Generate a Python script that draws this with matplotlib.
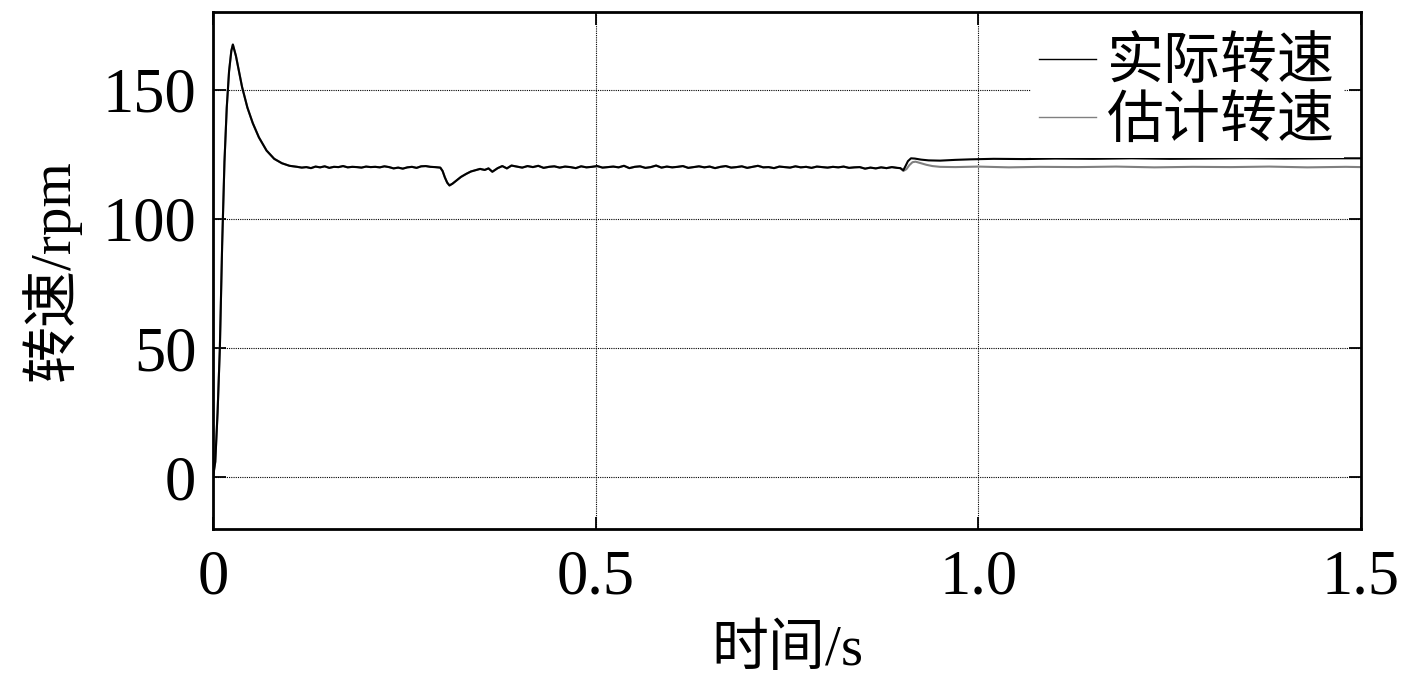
import matplotlib
matplotlib.use("Agg")
import matplotlib.pyplot as plt
import numpy as np

# shared part of both curves (start-up, load step at 0.3 s)
t_common = [
    0.000, 0.003, 0.006, 0.009, 0.012, 0.015, 0.018, 0.021, 0.024, 0.026,
    0.030, 0.034, 0.038, 0.045, 0.052, 0.060, 0.070, 0.080, 0.090, 0.100,
    0.110, 0.116, 0.122, 0.128, 0.134, 0.140, 0.146, 0.152, 0.158, 0.164,
    0.170, 0.176, 0.182, 0.188, 0.194, 0.200, 0.206, 0.212, 0.218, 0.224,
    0.230, 0.236, 0.242, 0.248, 0.254, 0.260, 0.266, 0.272, 0.278, 0.284,
    0.290, 0.297, 0.300, 0.303, 0.306, 0.309, 0.313, 0.318, 0.324, 0.331,
    0.337, 0.343, 0.349, 0.355, 0.360, 0.365, 0.372, 0.378, 0.384, 0.390,
    0.397, 0.404, 0.411, 0.418, 0.425, 0.432, 0.439, 0.446, 0.453, 0.460,
    0.467, 0.474, 0.481, 0.488, 0.495, 0.502, 0.509, 0.516, 0.523, 0.530,
    0.537, 0.544, 0.551, 0.558, 0.565, 0.572, 0.579, 0.586, 0.593, 0.600,
    0.607, 0.614, 0.621, 0.628, 0.635, 0.642, 0.649, 0.656, 0.663, 0.670,
    0.677, 0.684, 0.691, 0.698, 0.705, 0.712, 0.719, 0.726, 0.733, 0.740,
    0.747, 0.754, 0.761, 0.768, 0.775, 0.782, 0.789, 0.796, 0.803, 0.810,
    0.817, 0.824, 0.831, 0.838, 0.845, 0.852, 0.859, 0.866, 0.873, 0.880,
    0.887, 0.894, 0.898,
]
v_common = [
    0.0, 6.0, 25.0, 50.0, 90.0, 122.0, 143.0, 157.0, 165.0, 167.4,
    163.0, 157.0, 151.0, 143.0, 137.0, 131.5, 126.4, 123.2, 121.5, 120.5,
    120.1, 119.8, 120.0, 119.6, 120.2, 119.9, 120.3, 119.7, 120.1, 120.0,
    120.4, 119.9, 120.1, 120.0, 119.8, 120.2, 120.0, 120.1, 119.9, 120.3,
    120.0, 119.5, 119.8, 119.4, 119.9, 120.1, 119.7, 120.3, 120.4, 120.1,
    120.0, 119.8, 118.5, 116.0, 114.0, 112.9, 113.6, 114.8, 116.2, 117.4,
    118.3, 118.8, 119.3, 118.9, 119.5, 118.2, 119.6, 120.4, 119.5, 120.6,
    120.2, 119.8, 120.4, 120.0, 120.5, 119.7, 120.1, 120.3, 119.8, 120.2,
    120.0, 119.6, 120.3, 119.9, 120.1, 120.4, 119.8, 120.0, 120.2, 119.9,
    120.5, 119.6, 120.1, 120.3, 119.7, 120.0, 120.6, 119.8, 120.2, 119.9,
    120.1, 120.4, 119.7, 120.0, 120.3, 119.9, 120.2, 119.6, 120.1, 120.4,
    119.8, 120.0, 120.3, 119.7, 120.1, 120.5, 119.9, 120.0, 119.6, 120.2,
    120.0, 119.8, 120.3, 119.9, 120.1, 119.7, 120.2, 120.0, 119.8, 120.1,
    119.9, 120.2, 119.7, 119.9, 120.0, 119.4, 119.8, 119.5, 119.9, 119.6,
    120.0, 119.7, 119.6,
]

# actual speed after the change near 0.9 s
t_act_tail = [
    0.902, 0.905, 0.908, 0.912, 0.917, 0.925, 0.935, 0.950, 0.970, 0.990,
    1.020, 1.060, 1.100, 1.150, 1.200, 1.250, 1.300, 1.350, 1.400, 1.450, 1.500,
]
v_act_tail = [
    118.8, 120.5, 122.3, 123.4, 123.3, 122.9, 122.6, 122.5, 122.8, 123.0,
    123.2, 123.1, 123.3, 123.2, 123.4, 123.2, 123.3, 123.4, 123.3, 123.4, 123.4,
]

# estimated speed after 0.9 s
t_est_tail = [
    0.902, 0.906, 0.910, 0.914, 0.918, 0.924, 0.932, 0.940, 0.950, 0.970,
    1.000, 1.040, 1.080, 1.130, 1.180, 1.230, 1.280, 1.330, 1.380, 1.430, 1.480, 1.500,
]
v_est_tail = [
    118.5, 119.2, 120.8, 121.9, 122.1, 121.6, 120.9, 120.4, 120.1, 120.0,
    120.2, 119.9, 120.1, 120.0, 120.2, 119.9, 120.1, 120.0, 120.2, 119.9, 120.1, 120.0,
]

x_ticks = [0, 0.5, 1.0, 1.5]
x_tick_labels = ["0", "0.5", "1.0", "1.5"]
y_ticks = [0, 50, 100, 150]
y_tick_labels = ["0", "50", "100", "150"]

t_act = np.array(t_common + t_act_tail)
v_act = np.array(v_common + v_act_tail)
t_est = np.array(t_common + t_est_tail)
v_est = np.array(v_common + v_est_tail)

plt.rcParams["font.family"] = ["Liberation Serif", "Noto Sans CJK SC"]
plt.rcParams["font.size"] = 41

fig = plt.figure(figsize=(14.17, 6.85), dpi=100)
ax = fig.add_axes([0.1503, 0.2277, 0.9605 - 0.1503, 0.9825 - 0.2277])

ax.plot(t_act, v_act, color="black", lw=1.5, zorder=3, label="实际转速")
ax.plot(t_est, v_est, color="#808080", lw=1.5, zorder=2, label="估计转速")

ax.set_xlim(0, 1.5)
ax.set_ylim(-20, 180)
ax.set_xticks(x_ticks)
ax.set_xticklabels(x_tick_labels)
ax.set_yticks(y_ticks)
ax.set_yticklabels(y_tick_labels)

ax.grid(True, color="black", lw=0.8, linestyle=(0, (1, 1)))
ax.tick_params(direction="in", length=9, width=1.3, top=True, right=True,
               labelsize=45)
ax.tick_params(axis="x", pad=15)
ax.tick_params(axis="y", pad=12)
for s in ax.spines.values():
    s.set_linewidth(2)

ax.set_xlabel("时间/s", labelpad=12)
ax.set_ylabel("转速/rpm", labelpad=16)

leg = ax.legend(loc="upper right", frameon=True, fancybox=False, edgecolor="none",
                framealpha=1, handlelength=1.0, handletextpad=0.2, labelspacing=0.1,
                borderpad=0.15, borderaxespad=0.3)
for line in leg.get_lines():
    line.set_linewidth(1.0)

fig.savefig("out.png", dpi=100)
